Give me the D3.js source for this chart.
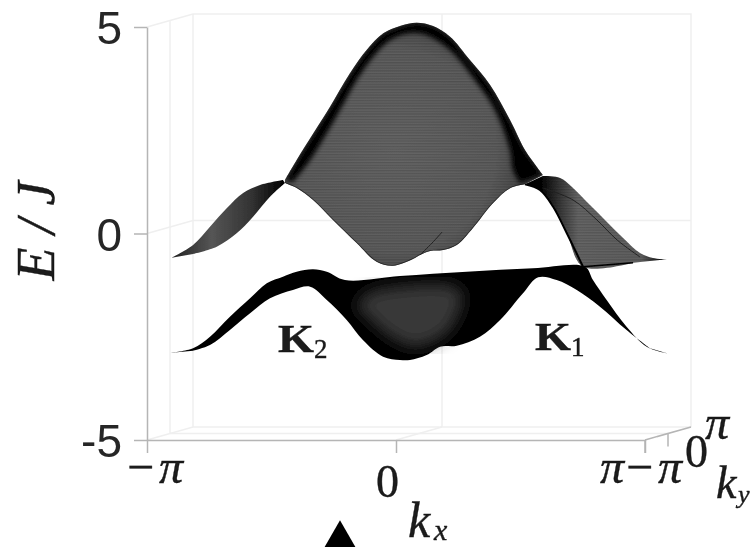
<!DOCTYPE html>
<html>
<head>
<meta charset="utf-8">
<script src="https://cdnjs.cloudflare.com/ajax/libs/d3/7.8.5/d3.min.js"></script>
<style>
  html, body { margin: 0; background: #fff; }
  svg { display: block; }
  .math { font-family: "Liberation Serif", serif; fill: #1a1a1a; stroke: #1a1a1a; stroke-width: 0.4; }
  .num { font-family: "Liberation Sans", sans-serif; fill: #262626; }
  .grid { stroke: #efefef; stroke-width: 1.5; fill: none; }
  .axis-line { stroke: #b5b5b5; stroke-width: 1.5; fill: none; }
</style>
</head>
<body>
<svg id="plot" width="753" height="547"></svg>
<script>
// tick values, kx and ky in units of pi
const energyTicks = [-5, 0, 5]
const kxTicks = [-1, 0, 1]
const kyTicks = [-1, 0, 1]

// outlines: [kx / pi on the front plane, E / J]
const wingLeftTop = [[-0.901,-0.586],[-0.815,-0.278],[-0.747,0.165],[-0.680,0.610],[-0.614,0.981],[-0.546,1.174],[-0.454,1.295]]
const wingLeftBottom = [[-0.446,1.223],[-0.506,0.891],[-0.574,0.407],[-0.640,0.005],[-0.720,-0.320],[-0.815,-0.496]]
const domeTop = [[-0.446,1.295],[-0.399,1.780],[-0.332,2.426],[-0.265,3.070],[-0.185,3.879],[-0.118,4.443],[-0.051,4.847],[0.016,5.024],[0.083,5.104],[0.149,5.024],[0.217,4.765],[0.297,4.201],[0.378,3.596],[0.458,2.748],[0.518,2.022],[0.565,1.617],[0.590,1.416]]
const domeBottom = [[0.518,1.191],[0.458,1.094],[0.390,0.738],[0.309,0.133],[0.244,-0.278],[0.189,-0.400],[0.137,-0.424],[0.096,-0.521],[0.068,-0.617],[-0.012,-0.780],[-0.078,-0.683],[-0.158,-0.230],[-0.253,0.327],[-0.333,0.811],[-0.399,1.102],[-0.446,1.223]]
const domeRim = [[-0.414,1.247],[-0.345,1.780],[-0.278,2.433],[-0.218,3.070],[-0.158,3.717],[-0.092,4.281],[-0.024,4.685],[0.056,4.855],[0.123,4.806],[0.217,4.443],[0.317,3.717],[0.398,2.990],[0.458,2.022],[0.470,1.538],[0.498,1.223]]
const domeCrease = [[0.096,-0.521],[0.145,-0.230],[0.185,0.036]]
const wingRightTop = [[0.590,1.392],[0.659,1.344],[0.711,1.102],[0.779,0.690],[0.846,0.286],[0.912,-0.109],[0.980,-0.472],[1.032,-0.593],[1.088,-0.625]]
const wingRightBottom = [[0.952,-0.707],[0.751,-0.804],[0.686,0.005],[0.631,0.649],[0.578,1.053],[0.518,1.191]]
const wingRightCrease = [[0.590,1.102],[0.711,0.811],[0.807,0.327],[0.888,-0.157],[0.980,-0.569]]
const lowerTop = [[-0.901,-2.886],[-0.815,-2.780],[-0.747,-2.499],[-0.667,-2.015],[-0.586,-1.569],[-0.519,-1.206],[-0.454,-1.046],[-0.399,-0.925],[-0.333,-0.867],[-0.278,-0.925],[-0.205,-1.126],[0.016,-1.029],[0.284,-0.925],[0.550,-0.843],[0.759,-0.804],[0.791,-1.126],[0.846,-1.610],[0.926,-2.257],[1.007,-2.741],[1.088,-2.901]]
const lowerBottom = [[1.020,-2.780],[0.926,-2.337],[0.819,-1.772],[0.726,-1.368],[0.645,-1.126],[0.571,-1.061],[0.510,-1.448],[0.418,-2.094],[0.337,-2.499],[0.244,-2.717],[0.177,-2.741],[0.123,-2.942],[0.056,-3.063],[0.016,-3.063],[-0.052,-2.983],[-0.133,-2.579],[-0.198,-2.094],[-0.278,-1.610],[-0.345,-1.288],[-0.414,-1.368],[-0.506,-1.569],[-0.586,-1.932],[-0.667,-2.337],[-0.747,-2.700],[-0.815,-2.838]]
const lowerPocket = [[-0.165,-1.780],[-0.116,-1.441],[-0.024,-1.295],[0.217,-1.247],[0.269,-1.441],[0.217,-2.337],[0.120,-2.700],[0.068,-2.748],[-0.024,-2.506],[-0.116,-2.022]]

const scaleX = d3.scaleLinear().domain([-1, 1]).range([147, 645])
const scaleE = d3.scaleLinear().domain([-5, 5]).range([440, 27])
// ky only shears the box: back wall sits up and to the right
const shearX = d3.scaleLinear().domain([-1, 1]).range([0, 46])
const shearY = d3.scaleLinear().domain([-1, 1]).range([0, -13])

const svg = d3.select('#plot')
const px = (kx, ky, e) => [scaleX(kx) + shearX(ky), scaleE(e) + shearY(ky)]
const smooth = d3.line().x(d => scaleX(d[0])).y(d => scaleE(d[1])).curve(d3.curveCatmullRom.alpha(0.5))
const outline = parts => parts.map(p => smooth(p)).join('').replace(/M/g, (m, i) => i === 0 ? 'M' : 'L') + 'Z'

const defs = svg.append('defs')
defs.append('filter').attr('id', 'soft').append('feGaussianBlur').attr('stdDeviation', 0.6)
defs.append('filter').attr('id', 'soft3').append('feGaussianBlur').attr('stdDeviation', 2.5)
defs.append('filter').attr('id', 'soft5').append('feGaussianBlur').attr('stdDeviation', 8)

const radial = (id, cx, cy, r, stops) => {
  const g = defs.append('radialGradient').attr('id', id)
    .attr('gradientUnits', 'userSpaceOnUse').attr('cx', cx).attr('cy', cy).attr('r', r)
  stops.forEach(([o, c]) => g.append('stop').attr('offset', o).attr('stop-color', c))
}
const linear = (id, x1, x2, stops) => {
  const g = defs.append('linearGradient').attr('id', id)
    .attr('gradientUnits', 'userSpaceOnUse').attr('x1', x1).attr('x2', x2).attr('y1', 0).attr('y2', 0)
  stops.forEach(([o, c]) => g.append('stop').attr('offset', o).attr('stop-color', c))
}
radial('domeFill', 395, 150, 135, [[0, '#666'], [0.75, '#5e5e5e'], [1, '#444']])
linear('wingLeftFill', 172, 285, [[0, '#222'], [0.35, '#555'], [0.7, '#333'], [1, '#000']])
linear('wingRightFill', 540, 667, [[0, '#000'], [0.14, '#333'], [0.3, '#666'], [0.8, '#606060'], [1, '#000']])

const mesh = defs.append('pattern').attr('id', 'mesh').attr('patternUnits', 'userSpaceOnUse')
  .attr('width', 8).attr('height', 2.7)
mesh.append('rect').attr('width', 8).attr('height', 1.3).attr('fill', '#000').attr('opacity', 0.16)

// ---- box: back walls and floor
const grid = svg.append('g').attr('filter', 'url(#soft)')
const box = [
  [[-1, -1, 5], [-1, 1, 5], [1, 1, 5], [1, 1, -5]],
  [[-1, -1, 0], [-1, 1, 0], [1, 1, 0]],
  [[-1, 1, 5], [-1, 1, -5]],
  [[-1, 0, 5], [-1, 0, -5]],
  [[0, 1, 5], [0, 1, -5]],
  [[-1, -1, -5], [-1, 1, -5], [1, 1, -5]],
  [[-1, 0, -5], [1, 0, -5]],
  [[0, -1, -5], [0, 1, -5]]
]
grid.selectAll('path').data(box).join('path')
  .attr('class', 'grid')
  .attr('d', d => d3.line()(d.map(p => px(...p))))

// ---- axes
const axes = svg.append('g').attr('filter', 'url(#soft)')
const axisE = axes.append('g').attr('transform', `translate(${scaleX(-1)},0)`)
  .call(d3.axisLeft(scaleE).tickValues(energyTicks).tickSize(13).tickSizeOuter(0).tickPadding(12).tickFormat(d3.format('d')))
axisE.selectAll('text').attr('class', 'num').attr('font-size', 46).attr('dy', '0.36em')
  .text(d => d < 0 ? '-5' : d)
axisE.selectAll('line, path').attr('class', 'axis-line').attr('stroke', null)

const axisK = axes.append('g').attr('transform', `translate(0,${scaleE(-5)})`)
  .call(d3.axisBottom(scaleX).tickValues(kxTicks).tickSize(13).tickSizeOuter(0).tickFormat(''))
axisK.selectAll('line, path').attr('class', 'axis-line').attr('stroke', null)

axes.append('path').attr('class', 'axis-line')
  .attr('d', d3.line()([px(1, -1, -5), px(1, 1, -5)]))
axes.selectAll('.ky-tick').data(kyTicks.slice(0, 2)).join('line')
  .attr('class', 'axis-line ky-tick')
  .attr('x1', d => px(1, d, -5)[0]).attr('x2', d => px(1, d, -5)[0])
  .attr('y1', d => px(1, d, -5)[1]).attr('y2', d => px(1, d, -5)[1] + 13)

// ---- surface
const surface = svg.append('g').attr('filter', 'url(#soft)')

const lowerD = outline([lowerTop, lowerBottom])
const domeD = outline([domeTop, domeBottom])
const wingRD = outline([wingRightTop, wingRightBottom])
const wingLD = outline([wingLeftTop, wingLeftBottom])

surface.append('path').attr('d', wingRD).attr('fill', 'url(#wingRightFill)')
surface.append('path').attr('d', wingRD).attr('fill', 'url(#mesh)')
surface.append('path').attr('d', smooth(wingRightCrease)).attr('fill', 'none').attr('stroke', '#222').attr('stroke-width', 1)
surface.append('path').attr('d', smooth(wingRightBottom.slice(1))).attr('fill', 'none').attr('stroke', '#000').attr('stroke-width', 2)
surface.append('path').attr('d', smooth(wingRightBottom.slice(0, 2))).attr('fill', 'none').attr('stroke', '#000').attr('stroke-width', 1.5)

surface.append('path').attr('d', wingLD).attr('fill', 'url(#wingLeftFill)')

defs.append('clipPath').attr('id', 'domeClip').append('path').attr('d', domeD)
surface.append('path').attr('d', domeD).attr('fill', 'url(#domeFill)')
surface.append('path').attr('d', domeD).attr('fill', 'url(#mesh)')
const domeInk = surface.append('g').attr('clip-path', 'url(#domeClip)')
domeInk.append('path').attr('d', outline([domeTop, domeRim.slice().reverse()]))
  .attr('fill', '#000').attr('filter', 'url(#soft3)')
domeInk.append('path').attr('d', smooth(domeBottom)).attr('fill', 'none')
  .attr('stroke', '#111').attr('stroke-width', 1.5).attr('opacity', 0.7)
surface.append('path').attr('d', smooth(domeCrease)).attr('fill', 'none')
  .attr('stroke', '#222').attr('stroke-width', 1)

surface.append('path').attr('d', lowerD).attr('fill', '#000')
surface.append('path').attr('d', outline([lowerPocket, lowerPocket.slice(0, 1)]))
  .attr('fill', '#383838').attr('filter', 'url(#soft5)')

// ---- labels
const labels = svg.append('g').attr('filter', 'url(#soft)')
const addText = (cls, x, y, size, style, txt, anchor) => labels.append('text')
  .attr('class', cls).attr('x', x).attr('y', y).attr('font-size', size)
  .attr('font-style', style).attr('text-anchor', anchor || 'start').text(txt)

addText('math', 127, 483, 48, 'normal', '−')
addText('math', 159, 483, 48, 'italic', 'π')
addText('math', 376, 497, 46, 'normal', '0')
addText('math', 600, 483, 48, 'italic', 'π')
addText('math', 626, 483, 48, 'normal', '−')
addText('math', 658, 483, 48, 'italic', 'π')
addText('math', 685, 467, 46, 'normal', '0')
addText('math', 705, 439, 48, 'italic', 'π')
addText('math', 408, 537, 50, 'italic', 'k')
addText('math', 434, 540, 30, 'italic', 'x')
addText('math', 716, 498, 46, 'italic', 'k')
addText('math', 738, 503, 26, 'italic', 'y')

labels.append('text').attr('class', 'math').attr('font-size', 54).attr('font-style', 'italic')
  .attr('text-anchor', 'middle').attr('transform', 'translate(54,231) rotate(-90)').text('E / J')

const addK = (x, y, sub) => {
  labels.append('text').attr('class', 'math').attr('x', x).attr('y', y).attr('font-size', 40)
    .attr('font-weight', 'bold').attr('textLength', 36).attr('lengthAdjust', 'spacingAndGlyphs').text('K')
  labels.append('text').attr('class', 'math').attr('x', x + 36).attr('y', y + 6).attr('font-size', 27).text(sub)
}
addK(278, 352, '2')
addK(535, 350, '1')

// ---- black marker under the plot
svg.append('path')
  .attr('d', d3.symbol(d3.symbolTriangle, 560))
  .attr('transform', 'translate(340,541)')
  .attr('fill', '#000')
</script>
</body>
</html>
